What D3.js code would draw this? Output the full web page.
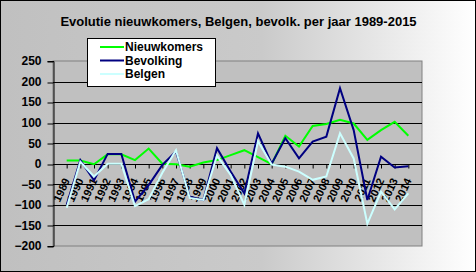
<!DOCTYPE html>
<html>
<head>
<meta charset="utf-8">
<script src="https://cdn.jsdelivr.net/npm/d3@7"></script>
<style>
  html, body { margin: 0; padding: 0; background: #fff; }
  svg { display: block; font-family: "Liberation Sans", Arial, sans-serif; font-weight: bold; }
</style>
</head>
<body>
<div id="chart"></div>
<script>
const years = d3.range(1989, 2015).map(String);
const nieuwkomers = [8, 8, -1, 23, 23, 9, 37, 0, -1, -7, 3, 9, 21, 33, 16, -1, 68, 42, 92, 97, 107, 98, 58, 82, 102, 68];
const bevolking = [-100, 9, -40, 24, 24, -92, -52, -3, 30, -80, -88, 38, -19, -72, 74, 0, 62, 13, 54, 66, 184, 82, -88, 17, -9, -6];
const belgen = [-107, 5, -31, 0, 0, -103, -86, -22, 33, -83, -88, 20, -27, -100, 55, -2, -7, -19, -39, -31, 74, 13, -146, -68, -111, -72];
const yTicks = [-200, -150, -100, -50, 0, 50, 100, 150, 200, 250];
const series = [
  {name: "Nieuwkomers", values: nieuwkomers, color: "#00ff00"},
  {name: "Bevolking", values: bevolking, color: "#000080"},
  {name: "Belgen", values: belgen, color: "#ccffff"}
];

const W = 476, H = 272;
const plot = {left: 53, right: 422, top: 61, bottom: 246};

const svg = d3.select("#chart").append("svg")
    .attr("width", W)
    .attr("height", H);

const grad = svg.append("defs").append("linearGradient")
    .attr("id", "bg")
    .attr("x1", 0).attr("y1", 0).attr("x2", 1).attr("y2", 0);
grad.append("stop").attr("offset", "0%").attr("stop-color", "#c0c0c0");
grad.append("stop").attr("offset", "55%").attr("stop-color", "#cacaca");
grad.append("stop").attr("offset", "100%").attr("stop-color", "#ffffff");

svg.append("rect")
    .attr("x", 0.5).attr("y", 0.5)
    .attr("width", W - 1).attr("height", H - 1)
    .attr("fill", "url(#bg)")
    .attr("stroke", "#000");

const x = d3.scalePoint()
    .domain(years)
    .range([plot.left, plot.right])
    .padding(1);

const y = d3.scaleLinear()
    .domain([-200, 250])
    .range([plot.bottom, plot.top]);

// plot area
svg.append("rect")
    .attr("x", plot.left).attr("y", plot.top)
    .attr("width", plot.right - plot.left)
    .attr("height", plot.bottom - plot.top)
    .attr("fill", "#c0c0c0")
    .attr("stroke", "#808080");

// gridlines
svg.append("g")
  .selectAll("line")
  .data(yTicks.filter(d => d > -200 && d < 250))
  .join("line")
    .attr("x1", plot.left).attr("x2", plot.right)
    .attr("y1", d => Math.round(y(d)) + 0.5)
    .attr("y2", d => Math.round(y(d)) + 0.5)
    .attr("stroke", "#000");

// y axis
const yAxis = svg.append("g")
    .attr("transform", `translate(${plot.left + 0.5},0)`)
    .call(d3.axisLeft(y).tickValues(yTicks).tickSize(6).tickPadding(6).tickFormat(d3.format("d")));
yAxis.select(".domain").attr("stroke", "#000");
yAxis.selectAll("line").attr("stroke", "#000")
    .attr("transform", d => `translate(0,${Math.round(y(d)) + 0.5 - y(d)})`);
yAxis.selectAll("text")
    .attr("font-size", 12)
    .attr("font-family", "Liberation Sans, Arial, sans-serif")
    .attr("font-weight", "bold")
    .attr("fill", "#000");

// x axis at zero
const x0 = Math.round(y(0)) + 0.5;
const xAxis = svg.append("g")
    .attr("transform", `translate(0,${x0})`)
    .call(d3.axisBottom(x).tickSize(4).tickSizeOuter(0));
xAxis.select(".domain").remove();
xAxis.selectAll("line").attr("stroke", "#000");
xAxis.selectAll("text")
    .attr("font-size", 11)
    .attr("font-family", "Liberation Sans, Arial, sans-serif")
    .attr("font-weight", "bold")
    .attr("fill", "#000")
    .attr("text-anchor", "end")
    .attr("dy", null)
    .attr("y", 0)
    .attr("transform", "translate(3,16) rotate(-65)");

// lines
const line = d3.line()
    .x((d, i) => x(years[i]))
    .y(d => y(d));

svg.append("g")
  .selectAll("path")
  .data(series)
  .join("path")
    .attr("d", d => line(d.values))
    .attr("fill", "none")
    .attr("stroke", d => d.color)
    .attr("stroke-width", 2)
    .attr("stroke-linejoin", "miter");

// title
svg.append("text")
    .attr("x", 238.5)
    .attr("y", 26)
    .attr("text-anchor", "middle")
    .attr("font-size", 13)
    .text("Evolutie nieuwkomers, Belgen, bevolk. per jaar 1989-2015");

// legend
const legend = svg.append("g");
legend.append("rect")
    .attr("x", 87.5).attr("y", 38.5)
    .attr("width", 128).attr("height", 48)
    .attr("fill", "#fff")
    .attr("stroke", "#000");

const item = legend.selectAll("g.item")
  .data(series)
  .join("g")
    .attr("class", "item")
    .attr("transform", (d, i) => `translate(0,${51 + i * 13.5})`);

item.append("line")
    .attr("x1", 100).attr("x2", 124)
    .attr("y1", -4).attr("y2", -4)
    .attr("stroke", d => d.color)
    .attr("stroke-width", 2);

item.append("text")
    .attr("x", 125)
    .attr("y", 0)
    .attr("font-size", 12)
    .text(d => d.name);
</script>
</body>
</html>
